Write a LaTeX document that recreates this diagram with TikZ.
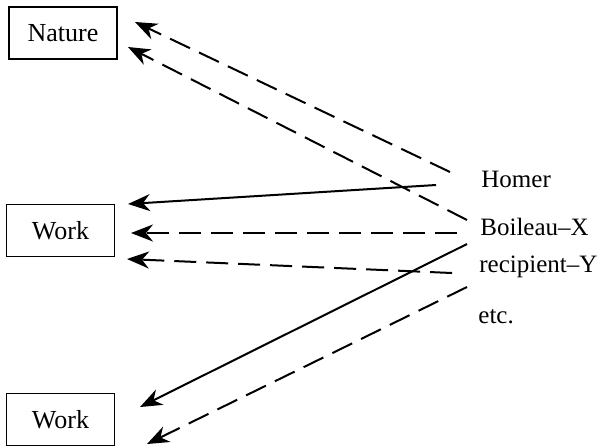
\documentclass[tikz,border=0pt]{standalone}
\usepackage{fontspec}
\setmainfont{Liberation Serif}
\usetikzlibrary{arrows.meta}

\tikzset{
  box/.style={draw,line width=0.9pt,minimum width=54pt,minimum height=26pt,inner sep=0pt,font=\fontsize{13}{15}\selectfont},
  poet/.style={anchor=base west,inner sep=0pt,font=\fontsize{12.5}{15}\selectfont},
  ptr/.style={line width=1pt,-{Stealth[length=11pt,width=8.5pt,inset=3.5pt]}},
  dashline/.style={ptr,dash pattern=on 11pt off 5pt}
}

\begin{document}
\begin{tikzpicture}[x=0.5pt,y=0.5pt]
\useasboundingbox (0,0) rectangle (597,447);

\node[box] (nature) at (63,414) {Nature};
\node[box] (work) at (60.5,216.5) {Work};
\node[box] (workb) at (60.5,27.5) {Work};

\node[poet] (homer) at (481,260) {Homer};
\node[poet] (boileau) at (480,212) {Boileau--X};
\node[poet] (recipient) at (479,175) {recipient--Y};
\node[poet] (etc) at (478,124) {etc.};

\coordinate (h1) at (450,275);
\coordinate (h2) at (436,262);
\coordinate (b1) at (467,227);
\coordinate (b2) at (457,214);
\coordinate (b3) at (467,203);
\coordinate (r1) at (452,174);
\coordinate (r2) at (467,160);

\coordinate (n1) at (135,425);
\coordinate (n2) at (128,400);
\coordinate (w1) at (128,243);
\coordinate (w2) at (131,214);
\coordinate (w3) at (127,188);
\coordinate (v1) at (140,40);
\coordinate (v2) at (147,3);

\draw[dashline] (h1)--(n1);
\draw[dashline] (b1)--(n2);
\draw[ptr] (h2)--(w1);
\draw[dashline] (b2)--(w2);
\draw[dashline] (r1)--(w3);
\draw[ptr] (b3)--(v1);
\draw[dashline] (r2)--(v2);

\end{tikzpicture}
\end{document}
